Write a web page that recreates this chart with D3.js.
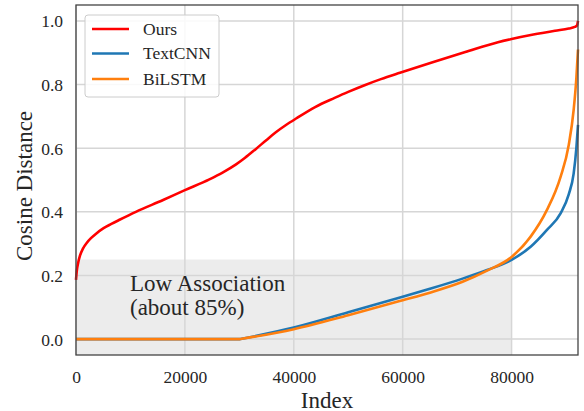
<!DOCTYPE html>
<html>
<head>
<meta charset="utf-8">
<script src="https://cdn.jsdelivr.net/npm/d3@7"></script>
<style>
  html, body { margin: 0; padding: 0; background: #fff; }
  svg { display: block; }
  text { font-family: "Liberation Serif", "Times New Roman", serif; fill: #262626; }
</style>
</head>
<body>
<svg id="chart" width="584" height="411"></svg>
<script>
// ---- Data ----
const xTicks = [0, 20000, 40000, 60000, 80000];
const yTicks = [0.0, 0.2, 0.4, 0.6, 0.8, 1.0];
const seriesNames = ["Ours", "TextCNN", "BiLSTM"];
const seriesColors = ["#ff0000", "#1f77b4", "#ff7f0e"];

const oursIdx = [0, 150, 400, 730, 1300, 2000, 2800, 3800, 5000, 6500, 8000, 11000, 16000, 20000, 24500, 27000, 29400, 31000, 33000, 35000, 36700, 38500, 40500, 44000, 47500, 50000, 53000, 56000, 59500, 65500, 71500, 77500, 80000, 84000, 88000, 90500, 91600, 92000, 92200];
const oursVal = [0.186, 0.215, 0.24, 0.262, 0.285, 0.303, 0.318, 0.333, 0.348, 0.362, 0.375, 0.400, 0.437, 0.468, 0.502, 0.524, 0.549, 0.569, 0.597, 0.626, 0.650, 0.672, 0.694, 0.730, 0.758, 0.777, 0.798, 0.817, 0.837, 0.870, 0.902, 0.933, 0.943, 0.957, 0.969, 0.976, 0.981, 0.985, 1.0];

const cnnIdx = [0, 30200, 40000, 50000, 60000, 65000, 71000, 75500, 80000, 83500, 86500, 89000, 90500, 91400, 91900, 92200];
const cnnVal = [0, 0, 0.036, 0.084, 0.133, 0.158, 0.190, 0.217, 0.249, 0.290, 0.343, 0.395, 0.455, 0.520, 0.600, 0.673];

const lstmIdx = [0, 30200, 40000, 50000, 60000, 65000, 71000, 75500, 80000, 83500, 86500, 89000, 90500, 91400, 91900, 92200];
const lstmVal = [0, 0, 0.031, 0.075, 0.122, 0.146, 0.180, 0.215, 0.258, 0.322, 0.406, 0.510, 0.610, 0.720, 0.820, 0.910];

const shadeRange = [0, 80000];
const shadeTop = 0.25;
const annotationLines = ["Low Association", "(about 85%)"];
const xLabel = "Index";
const yLabel = "Cosine Distance";

// ---- Layout ----
const svg = d3.select("#chart");
const plot = { left: 76, right: 578, top: 5, bottom: 355 };

const x = d3.scaleLinear().domain([0, 92200]).range([plot.left, plot.right]);
const y = d3.scaleLinear().domain([-0.05, 1.05]).range([plot.bottom, plot.top]);

// shaded region
svg.append("rect")
  .attr("x", x(shadeRange[0]))
  .attr("y", y(shadeTop))
  .attr("width", x(shadeRange[1]) - x(shadeRange[0]))
  .attr("height", plot.bottom - y(shadeTop))
  .attr("fill", "#ececec");

// grid
const grid = svg.append("g");
grid.selectAll("line.gx").data(xTicks).join("line")
  .attr("x1", d => x(d)).attr("x2", d => x(d))
  .attr("y1", plot.top).attr("y2", plot.bottom)
  .attr("stroke", "#d6d6d6").attr("stroke-width", 1.5);
grid.selectAll("line.gy").data(yTicks).join("line")
  .attr("x1", plot.left).attr("x2", plot.right)
  .attr("y1", d => y(d)).attr("y2", d => y(d))
  .attr("stroke", "#d6d6d6").attr("stroke-width", 1.5);

// annotation
const ann = svg.append("text")
  .attr("x", 130).attr("y", 291)
  .style("font-size", "23px");
ann.selectAll("tspan").data(annotationLines).join("tspan")
  .attr("x", 130)
  .attr("dy", (d, i) => i === 0 ? 0 : 23.5)
  .text(d => d);

// lines
const line = d3.line()
  .x(d => x(d[0]))
  .y(d => y(d[1]))
  .curve(d3.curveMonotoneX);

// split a series into a flat zero part and a rising part so the corner stays sharp
function pieces(idx, val) {
  const pts = d3.zip(idx, val);
  let k = 0;
  while (k + 1 < pts.length && pts[k + 1][1] === 0) k++;
  if (k === 0) return [pts];
  return [pts.slice(0, k + 1), pts.slice(k)];
}

const series = [
  pieces(oursIdx, oursVal),
  pieces(cnnIdx, cnnVal),
  pieces(lstmIdx, lstmVal)
];
// draw order: TextCNN, BiLSTM, Ours on top
[1, 2, 0].forEach(i => {
  const d = series[i].map(p => line(p)).join("");
  svg.append("path")
    .attr("d", d)
    .attr("fill", "none")
    .attr("stroke", seriesColors[i])
    .attr("stroke-width", 2.6)
    .attr("stroke-linejoin", "round")
    .attr("stroke-linecap", "butt");
});

// axes (no tick marks)
const xAxis = d3.axisBottom(x).tickValues(xTicks).tickSize(0).tickPadding(0).tickFormat(d3.format("d"));
const gx = svg.append("g").attr("transform", `translate(0,${plot.bottom})`).call(xAxis);
gx.select(".domain").remove();
gx.selectAll("text")
  .attr("y", 28).attr("dy", 0)
  .style("font-size", "17.5px")
  .style("font-family", "'Liberation Serif', serif")
  .attr("fill", "#262626");

const yAxis = d3.axisLeft(y).tickValues(yTicks).tickSize(0).tickPadding(0).tickFormat(d3.format(".1f"));
const gy = svg.append("g").attr("transform", `translate(${plot.left},0)`).call(yAxis);
gy.select(".domain").remove();
gy.selectAll("text")
  .attr("x", -13).attr("dy", "0.34em")
  .style("font-size", "17.5px")
  .style("font-family", "'Liberation Serif', serif")
  .attr("fill", "#262626");

// spines
svg.append("rect")
  .attr("x", plot.left).attr("y", plot.top)
  .attr("width", plot.right - plot.left).attr("height", plot.bottom - plot.top)
  .attr("fill", "none").attr("stroke", "#444").attr("stroke-width", 1.3);

// axis labels
svg.append("text")
  .attr("x", (plot.left + plot.right) / 2).attr("y", 408)
  .attr("text-anchor", "middle")
  .style("font-size", "23px")
  .text(xLabel);
svg.append("text")
  .attr("transform", `translate(32,${(plot.top + plot.bottom) / 2 + 6}) rotate(-90)`)
  .attr("text-anchor", "middle")
  .style("font-size", "23px")
  .text(yLabel);

// legend
const lg = svg.append("g");
lg.append("rect")
  .attr("x", 85).attr("y", 15).attr("width", 134).attr("height", 82)
  .attr("rx", 3).attr("ry", 3)
  .attr("fill", "#fff").attr("fill-opacity", 0.85)
  .attr("stroke", "#cccccc").attr("stroke-width", 1);
const legendY = [29, 53.5, 79];
seriesNames.forEach((name, i) => {
  lg.append("line")
    .attr("x1", 92).attr("x2", 129)
    .attr("y1", legendY[i]).attr("y2", legendY[i])
    .attr("stroke", seriesColors[i]).attr("stroke-width", 2.6);
  lg.append("text")
    .attr("x", 143).attr("y", legendY[i]).attr("dy", "0.34em")
    .style("font-size", "17.5px")
    .text(name);
});
</script>
</body>
</html>
